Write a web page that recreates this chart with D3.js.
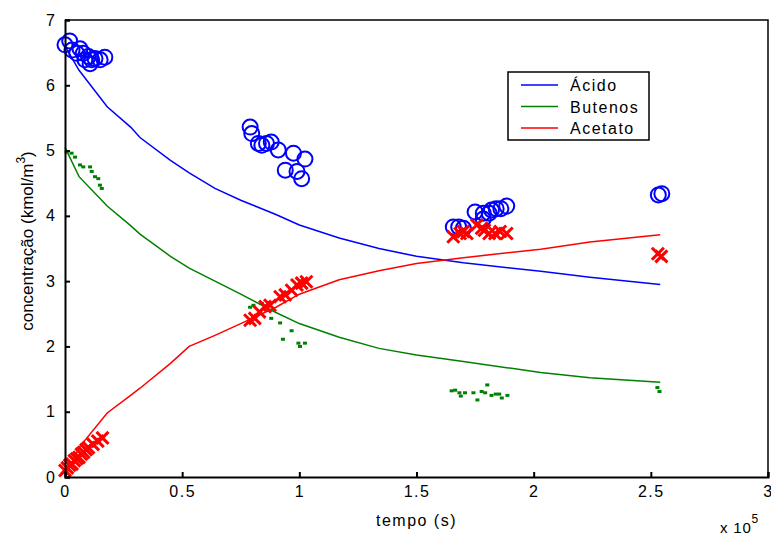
<!DOCTYPE html>
<html>
<head>
<meta charset="utf-8">
<script src="https://cdn.jsdelivr.net/npm/d3@7"></script>
<style>
  body { margin: 0; background: #fff; }
  svg text { font-family: "Liberation Sans", Arial, sans-serif; }
</style>
</head>
<body>
<div id="chart"></div>
<script>
// time in units of 1e5 s, concentration in kmol/m3

// model curves
var modelT = [0, 0.06, 0.18, 0.28, 0.32, 0.45, 0.53, 0.64, 0.75, 0.9, 1.0, 1.17, 1.34, 1.5, 1.7, 2.03, 2.24, 2.54];
var acidoModel = [6.6, 6.23, 5.67, 5.36, 5.2, 4.85, 4.66, 4.42, 4.24, 4.02, 3.86, 3.66, 3.5, 3.38, 3.28, 3.15, 3.06, 2.95];
var butenosModel = [5.05, 4.6, 4.15, 3.85, 3.72, 3.38, 3.2, 3.0, 2.8, 2.52, 2.35, 2.14, 1.97, 1.87, 1.77, 1.6, 1.52, 1.45];
var acetatoModel = [0, 0.45, 0.98, 1.25, 1.36, 1.74, 2.0, 2.17, 2.35, 2.6, 2.8, 3.02, 3.16, 3.27, 3.36, 3.49, 3.6, 3.71];

// measured points
var acidoT = [0, 0.02, 0.03, 0.05, 0.064, 0.078, 0.085, 0.1, 0.107, 0.114, 0.128, 0.15, 0.17,
              0.79, 0.797, 0.825, 0.84, 0.86, 0.88, 0.91, 0.94, 0.975, 0.99, 1.01, 1.024,
              1.657, 1.68, 1.70, 1.75, 1.785, 1.785, 1.81, 1.82, 1.84, 1.86, 1.885,
              2.532, 2.547];
var acidoC = [6.62, 6.68, 6.54, 6.49, 6.56, 6.49, 6.39, 6.44, 6.33, 6.39, 6.41, 6.39, 6.43,
              5.36, 5.26, 5.11, 5.08, 5.11, 5.13, 5.01, 4.7, 4.96, 4.68, 4.57, 4.87,
              3.83, 3.83, 3.81, 4.06, 4.04, 3.95, 4.04, 4.09, 4.11, 4.11, 4.15,
              4.32, 4.34];

var butenosT = [0.007, 0.028, 0.043, 0.064, 0.078, 0.107, 0.114, 0.128, 0.142, 0.149, 0.157,
                0.79, 0.804, 0.84, 0.88, 0.918, 0.93, 0.967, 0.996, 1.003, 1.024,
                1.65, 1.665, 1.683, 1.689, 1.707, 1.743, 1.76, 1.778, 1.793, 1.802, 1.82, 1.838, 1.853, 1.864, 1.888,
                2.528, 2.537];
var butenosC = [4.98, 4.96, 4.9, 4.78, 4.75, 4.75, 4.68, 4.6, 4.57, 4.47, 4.42,
                2.6, 2.63, 2.66, 2.43, 2.36, 2.11, 2.24, 2.05, 2.0, 2.05,
                1.32, 1.33, 1.29, 1.24, 1.29, 1.29, 1.18, 1.31, 1.29, 1.41, 1.25, 1.27, 1.27, 1.21, 1.25,
                1.37, 1.31];

var acetatoT = [0, 0.01, 0.02, 0.03, 0.04, 0.05, 0.06, 0.07, 0.08, 0.09, 0.1, 0.12, 0.14, 0.16,
                0.79, 0.81, 0.83, 0.854, 0.875, 0.918, 0.94, 0.967, 0.99, 1.01, 1.03,
                1.657, 1.686, 1.70, 1.715, 1.757, 1.778, 1.79, 1.81, 1.835, 1.857, 1.885,
                2.53, 2.545];
var acetatoC = [0.1, 0.14, 0.18, 0.2, 0.25, 0.28, 0.3, 0.35, 0.38, 0.42, 0.45, 0.5, 0.55, 0.6,
                2.4, 2.43, 2.53, 2.61, 2.63, 2.76, 2.79, 2.86, 2.94, 2.97, 2.99,
                3.68, 3.73, 3.76, 3.73, 3.86, 3.81, 3.78, 3.73, 3.73, 3.76, 3.73,
                3.42, 3.38];

var xTicks = [0, 0.5, 1, 1.5, 2, 2.5, 3];
var yTicks = [0, 1, 2, 3, 4, 5, 6, 7];
var seriesNames = ["Ácido", "Butenos", "Acetato"];
var seriesColors = ["#0000ff", "#008000", "#ff0000"];

var margin = {left: 65, top: 20, right: 3, bottom: 59};
var width = 771 - margin.left - margin.right;
var height = 536 - margin.top - margin.bottom;

var svg = d3.select("#chart").append("svg")
    .attr("width", 771)
    .attr("height", 536);

var x = d3.scaleLinear().domain([0, 3]).range([0, width]);
var y = d3.scaleLinear().domain([0, 7]).range([height, 0]);

var g = svg.append("g").attr("transform", "translate(" + margin.left + "," + margin.top + ")");

var line = d3.line()
    .x(function(d) { return x(d[0]); })
    .y(function(d) { return y(d[1]); });

var models = [acidoModel, butenosModel, acetatoModel];
models.forEach(function(vals, i) {
    g.append("path")
     .attr("d", line(modelT.map(function(t, k) { return [t, vals[k]]; })))
     .attr("fill", "none")
     .attr("stroke", seriesColors[i])
     .attr("stroke-width", 1.5);
});

// circles (Ácido)
g.selectAll(".circ").data(d3.zip(acidoT, acidoC)).enter().append("circle")
  .attr("cx", function(d) { return x(d[0]); })
  .attr("cy", function(d) { return y(d[1]); })
  .attr("r", 7.5)
  .attr("fill", "none")
  .attr("stroke", seriesColors[0])
  .attr("stroke-width", 2);

// dots (Butenos)
g.selectAll(".dot").data(d3.zip(butenosT, butenosC)).enter().append("rect")
  .attr("x", function(d) { return x(d[0]) - 2; })
  .attr("y", function(d) { return y(d[1]) - 1.5; })
  .attr("width", 4)
  .attr("height", 3)
  .attr("fill", seriesColors[1]);

// crosses (Acetato)
var xs = 6;
g.selectAll(".cross").data(d3.zip(acetatoT, acetatoC)).enter().append("path")
  .attr("d", function(d) {
      var cx = x(d[0]), cy = y(d[1]);
      return "M" + (cx - xs) + "," + (cy - xs) + "L" + (cx + xs) + "," + (cy + xs) +
             "M" + (cx - xs) + "," + (cy + xs) + "L" + (cx + xs) + "," + (cy - xs);
  })
  .attr("stroke", seriesColors[2])
  .attr("stroke-width", 3);

// axes, matlab style ticks inside
var fmt = function(d) { return String(d); };
var xaxis = d3.axisBottom(x).tickValues(xTicks).tickSize(-5).tickPadding(9).tickFormat(fmt);
var yaxis = d3.axisLeft(y).tickValues(yTicks).tickSize(-5).tickPadding(10).tickFormat(fmt);

var gx = g.append("g").attr("transform", "translate(0," + height + ")").call(xaxis);
var gy = g.append("g").call(yaxis);
[gx, gy].forEach(function(a) {
    a.select(".domain").attr("stroke", "#000").attr("stroke-width", 2);
    a.selectAll(".tick line").attr("stroke", "#000").attr("stroke-width", 2);
    a.selectAll(".tick text").attr("font-size", 16).attr("fill", "#000")
     .style("font-family", "Liberation Sans, Arial, sans-serif");
});
gx.selectAll(".tick text").attr("letter-spacing", 1.5);

// box
g.append("path")
  .attr("d", "M0,0H" + width + "V" + height)
  .attr("fill", "none").attr("stroke", "#000").attr("stroke-width", 1.5);

// labels
svg.append("text")
  .attr("x", margin.left + x(1.5))
  .attr("y", 526)
  .attr("text-anchor", "middle")
  .attr("font-size", 16)
  .attr("letter-spacing", 1.5)
  .text("tempo (s)");

var xm = svg.append("text")
  .attr("x", 720)
  .attr("y", 533)
  .attr("font-size", 15)
  .attr("letter-spacing", 0.8);
xm.append("tspan").text("x 10");
xm.append("tspan").attr("dy", -10).attr("font-size", 12).text("5");

var yl = svg.append("text")
  .attr("transform", "translate(33,241) rotate(-90)")
  .attr("text-anchor", "middle")
  .attr("font-size", 17);
yl.append("tspan").text("concentração (kmol/m");
yl.append("tspan").attr("dy", -8).attr("font-size", 12).text("3");
yl.append("tspan").attr("dy", 8).text(")");

// legend
var legend = svg.append("g").attr("transform", "translate(508,72)");
legend.append("rect")
  .attr("width", 141).attr("height", 68)
  .attr("fill", "#fff").attr("stroke", "#000").attr("stroke-width", 1.5);
seriesNames.forEach(function(name, i) {
    var ly = 13 + i * 21.5;
    legend.append("line")
      .attr("x1", 13).attr("x2", 50).attr("y1", ly).attr("y2", ly)
      .attr("stroke", seriesColors[i]).attr("stroke-width", 1.5);
    legend.append("text")
      .attr("x", 62).attr("y", ly + 6)
      .attr("font-size", 16)
      .attr("letter-spacing", 1.5)
      .text(name);
});
</script>
</body>
</html>
